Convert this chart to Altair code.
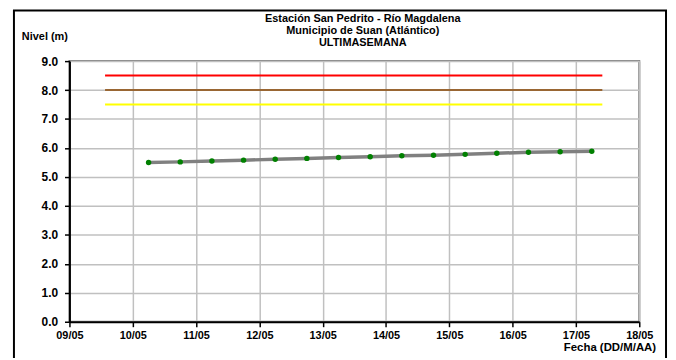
import altair as alt
import pandas as pd

# ---- data ----
times = [
    "2021-05-10T06:00:00Z", "2021-05-10T18:00:00Z",
    "2021-05-11T06:00:00Z", "2021-05-11T18:00:00Z",
    "2021-05-12T06:00:00Z", "2021-05-12T18:00:00Z",
    "2021-05-13T06:00:00Z", "2021-05-13T18:00:00Z",
    "2021-05-14T06:00:00Z", "2021-05-14T18:00:00Z",
    "2021-05-15T06:00:00Z", "2021-05-15T18:00:00Z",
    "2021-05-16T06:00:00Z", "2021-05-16T18:00:00Z",
    "2021-05-17T06:00:00Z",
]
levels = [5.50, 5.52, 5.55, 5.58, 5.61, 5.64, 5.67, 5.70,
          5.73, 5.75, 5.78, 5.82, 5.85, 5.87, 5.89]

alert_names = ["Roja", "Naranja", "Amarilla"]
alert_levels = [8.5, 8.0, 7.5]
alert_colors = ["#ff0000", "#996633", "#ffff00"]
alert_start = "2021-05-09T13:30:00Z"
alert_end = "2021-05-17T10:00:00Z"

tick_days = [9, 10, 11, 12, 13, 14, 15, 16, 17, 18]
y_ticks = [0, 1, 2, 3, 4, 5, 6, 7, 8, 9]

title_lines = ["Estación San Pedrito - Río Magdalena",
               "Municipio de Suan (Atlántico)",
               "ULTIMASEMANA"]
y_title = "Nivel (m)"
x_title = "Fecha (DD/M/AA)"

FONT = "Liberation Sans"

series = pd.DataFrame({"t": times, "nivel": levels})
alerts = pd.DataFrame({
    "alerta": alert_names,
    "nivel": alert_levels,
    "t0": [alert_start] * len(alert_names),
    "t1": [alert_end] * len(alert_names),
})

x_scale = alt.Scale(
    type="utc",
    domain=[alt.DateTime(year=2021, month=5, date=9, utc=True),
            alt.DateTime(year=2021, month=5, date=18, utc=True)],
)
y_scale = alt.Scale(domain=[0, 9], nice=False)

x_axis = alt.Axis(
    values=[alt.DateTime(year=2021, month=5, date=d, utc=True) for d in tick_days],
    format="%d/%m", title=None, grid=True, gridColor="#c0c0c0", gridWidth=1.5,
    domainColor="#000000", domainWidth=2, tickColor="#000000", tickWidth=1.5,
    tickSize=5, labelFont=FONT, labelFontWeight="bold", labelFontSize=11,
    labelColor="#000000", labelPadding=3, labelFlush=False,
)
y_axis = alt.Axis(
    values=y_ticks, format=".1f", title=None, grid=True, gridColor="#c0c0c0",
    gridWidth=1.5, domainColor="#000000", domainWidth=2, tickColor="#000000",
    tickWidth=1.5, tickSize=5, labelFont=FONT, labelFontWeight="bold",
    labelFontSize=12, labelColor="#000000", labelPadding=7,
)

base_x = alt.X("t:T", scale=x_scale, axis=x_axis)
base_y = alt.Y("nivel:Q", scale=y_scale, axis=y_axis)

rules = alt.Chart(alerts).mark_rule(strokeWidth=2).encode(
    x=alt.X("t0:T", scale=x_scale, axis=x_axis),
    x2="t1:T",
    y=base_y,
    color=alt.Color("alerta:N",
                    scale=alt.Scale(domain=alert_names, range=alert_colors),
                    legend=None),
)

line = alt.Chart(series).mark_line(color="#808080", strokeWidth=3.5).encode(
    x=base_x, y=base_y
)
points = alt.Chart(series).mark_point(
    filled=True, color="#008000", size=30, opacity=1
).encode(x=base_x, y=base_y)

one = pd.DataFrame({"k": [0]})


def label(txt, x, y, align="center", size=11):
    return alt.Chart(one).mark_text(
        text=txt, font=FONT, fontWeight="bold", fontSize=size,
        color="#000000", align=align, baseline="middle",
    ).encode(x=alt.value(x), y=alt.value(y))


texts = [
    label(title_lines[0], 296, -42),
    label(title_lines[1], 296, -30),
    label(title_lines[2], 296, -18),
    label(y_title, -48, -24, align="left", size=11),
    label(x_title, 592, 290, align="right", size=11.5),
]

frame = alt.Chart(one).mark_rect(
    fill=None, stroke="#000000", strokeWidth=2
).encode(
    x=alt.value(-56), x2=alt.value(602), y=alt.value(-51), y2=alt.value(400)
)

chart = alt.layer(rules, line, points, *texts, frame).properties(
    width=575, height=263,
    autosize=alt.AutoSizeParams(type="none"),
    padding={"left": 62, "top": 52, "right": 29, "bottom": 35},
    background="#ffffff",
).configure_view(stroke="#808080", strokeWidth=2)

chart.save("out.html", embed_options={"renderer": "svg", "actions": False})
